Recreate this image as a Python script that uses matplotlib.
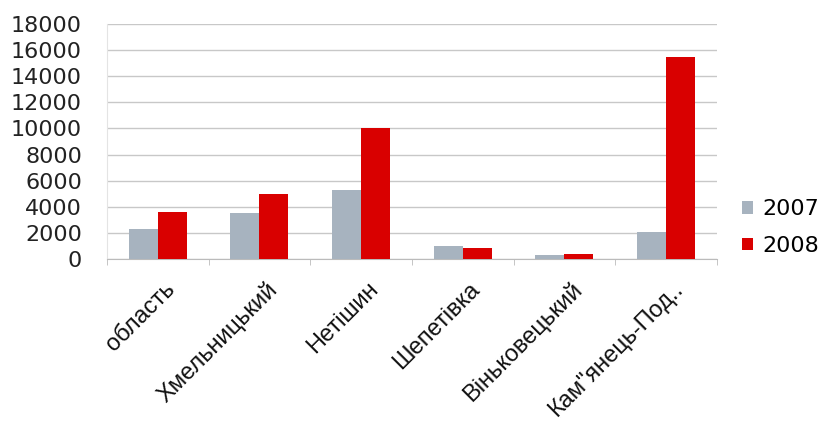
import numpy as np
import matplotlib.pyplot as plt
from matplotlib.transforms import ScaledTranslation

# дані
categories = ["область", "Хмельницький", "Нетішин", "Шепетівка", "Віньковецький", "Кам\"янець-Под.."]
values_2007 = [2300, 3500, 5300, 1000, 300, 2050]
values_2008 = [3600, 5000, 10000, 850, 380, 15500]
years = ["2007", "2008"]
colors = ["#a7b3bf", "#d90000"]

fig = plt.figure(figsize=(8.23, 4.30), dpi=100)
ax = fig.add_axes([0.130, 0.398, 0.741, 0.546])

x = np.arange(len(categories))
w = 0.285
ax.bar(x - w / 2, values_2007, w, color=colors[0], label=years[0], zorder=3)
ax.bar(x + w / 2, values_2008, w, color=colors[1], label=years[1], zorder=3)

ax.set_xlim(-0.5, len(categories) - 0.5)
ax.set_ylim(0, 18000)
ax.set_yticks(np.arange(0, 18001, 2000))
ax.yaxis.grid(True, color="#c8c8c8", linewidth=1, zorder=0)
ax.tick_params(axis="y", length=0, pad=18, labelsize=16, labelcolor="#222222")

# підписи категорій під кутом 45°, риски між категоріями
ax.set_xticks(x)
ax.set_xticklabels(categories, rotation=45, rotation_mode="anchor", ha="right", va="top",
                   fontsize=17, family="Liberation Sans", color="#111111")
ax.tick_params(axis="x", which="major", length=0, pad=14)
ax.set_xticks(np.arange(-0.5, len(categories), 1), minor=True)
ax.tick_params(axis="x", which="minor", length=4, color="#bbbbbb", direction="out")
shift = ScaledTranslation(6 / 100, 0, fig.dpi_scale_trans)
for lbl in ax.get_xticklabels():
    lbl.set_transform(lbl.get_transform() + shift)

for s in ["top", "right"]:
    ax.spines[s].set_visible(False)
ax.spines["left"].set_color("#e4e4e4")
ax.spines["bottom"].set_color("#bbbbbb")

ax.legend(loc="center left", bbox_to_anchor=(0.891, 0.471), bbox_transform=fig.transFigure,
          frameon=False, fontsize=16, handlelength=0.5, handleheight=0.5,
          handletextpad=0.4, labelspacing=0.75, borderaxespad=0)

fig.savefig("out.png", dpi=100)
